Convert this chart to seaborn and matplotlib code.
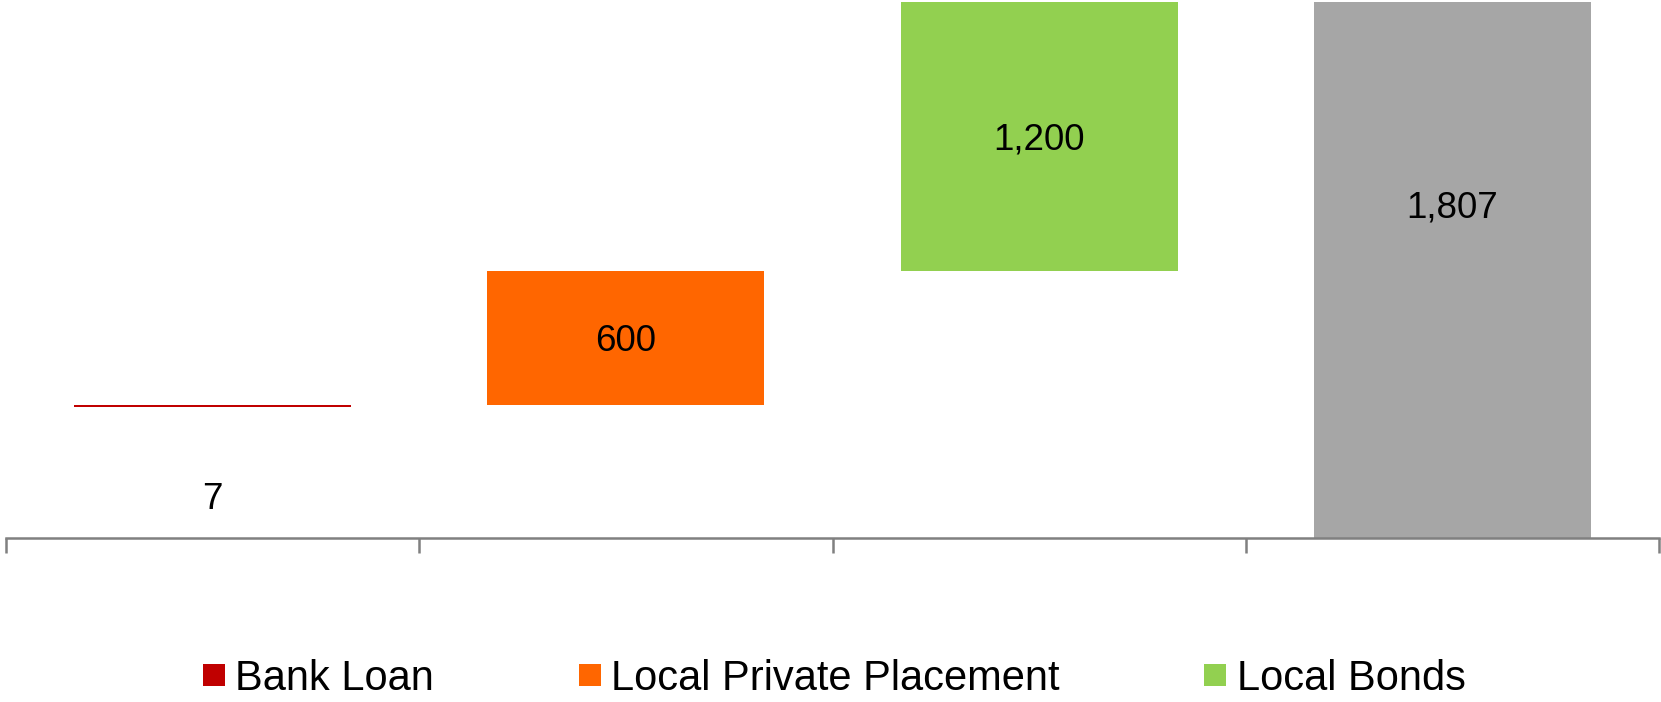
import matplotlib
matplotlib.use("Agg")
import matplotlib.pyplot as plt
from matplotlib.lines import Line2D
import seaborn as sns

# Funding sources (waterfall) and the resulting total
categories = ["Bank Loan", "Local Private Placement", "Local Bonds", "Total"]
values = [7, 600, 1200, 1807]
colors = ["#C00000", "#FF6600", "#92D050", "#A6A6A6"]
legend_labels = ["Bank Loan", "Local Private Placement", "Local Bonds"]

# Value where the horizontal axis crosses; the total column rises from it
AXIS_CROSS = -587
Y_TOP = 1816

sns.set_theme(style="white")
plt.rcParams["font.family"] = ["Liberation Sans", "DejaVu Sans"]
plt.rcParams["text.color"] = "black"

fig = plt.figure(figsize=(16.61, 7.02), dpi=100)
ax = fig.add_axes([6 / 1661, 164 / 702, 1653 / 1661, 538 / 702])

# Running bottoms for the floating steps
bottoms = []
running = 0
for v in values[:-1]:
    bottoms.append(running)
    running += v
heights = list(values[:-1])
# Total column spans from the axis crossing up to the total
bottoms.append(AXIS_CROSS)
heights.append(values[-1] - AXIS_CROSS)

for cat, h, b, c in zip(categories, heights, bottoms, colors):
    sns.barplot(x=[cat], y=[h], bottom=b, color=c, order=categories,
                width=0.67, saturation=1, ax=ax, linewidth=0, edgecolor="none")

# Value labels
label_y = [-395, bottoms[1] + values[1] / 2, bottoms[2] + values[2] / 2, values[3] / 2]
for i, (v, y) in enumerate(zip(values, label_y)):
    ax.text(i, y, f"{v:,}", ha="center", va="center_baseline", fontsize=26.5, color="black")

ax.set_xlim(-0.5, len(categories) - 0.5)
ax.set_ylim(AXIS_CROSS, Y_TOP)
ax.set_xlabel("")
ax.set_ylabel("")
ax.set_yticks([])
ax.set_xticks([i - 0.5 for i in range(len(categories) + 1)])
ax.set_xticklabels([])
ax.tick_params(axis="x", direction="out", length=10.8, width=1.8, color="#808080", bottom=True)
for side in ["top", "right", "left"]:
    ax.spines[side].set_visible(False)
ax.spines["bottom"].set_color("#808080")
ax.spines["bottom"].set_linewidth(1.8)
ax.set_facecolor("white")

handles = [Line2D([], [], marker="s", linestyle="", markersize=16,
                  markerfacecolor=c, markeredgewidth=0) for c in colors[:3]]
leg = fig.legend(handles, legend_labels, loc="center", bbox_to_anchor=(0.5015, 0.033),
                 ncol=3, frameon=False, fontsize=30, handlelength=0.65, handletextpad=0.2,
                 columnspacing=3.4, borderpad=0, borderaxespad=0)
for t in leg.get_texts():
    t.set_color("black")

fig.savefig("out.png", dpi=100, facecolor="white")
